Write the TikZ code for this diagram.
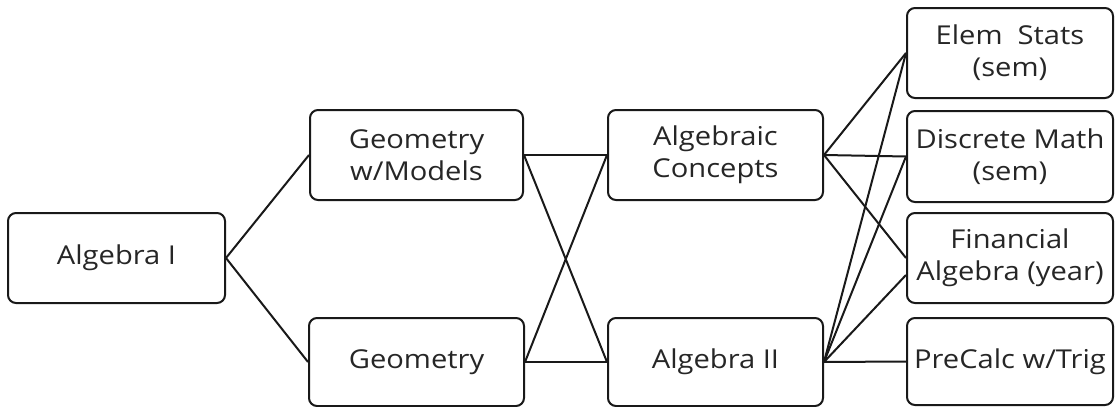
\documentclass[tikz,border=0pt]{standalone}
\usepackage{fontspec}
\setmainfont{Open Sans}[FakeStretch=1.12]
\usetikzlibrary{calc}
\begin{document}
\begin{tikzpicture}[x=0.5pt,y=-0.5pt,
  box/.style={draw=black!90, line width=1pt, rounded corners=4pt, align=center,
    inner sep=0pt, text=black!85,
    font=\fontsize{13}{16}\selectfont},
  link/.style={draw=black!90, line width=1pt}]
\useasboundingbox (0,0) rectangle (1115,407);
\node[box, minimum width=108.5pt, minimum height=45pt] (a1) at (116.5,258) {Algebra I};
\node[box, minimum width=106.5pt, minimum height=45pt] (gm) at (416.5,155) {Geometry\\w/Models};
\node[box, minimum width=107.5pt, minimum height=44pt] (geo) at (416.5,362) {Geometry};
\node[box, minimum width=107.5pt, minimum height=45pt] (ac) at (715.5,155) {Algebraic\\Concepts};
\node[box, minimum width=107.5pt, minimum height=44pt] (a2) at (715.5,362) {Algebra II};
\node[box, minimum width=103pt, minimum height=45pt] (es) at (1010,53) {Elem\ \ Stats\\(sem)};
\node[box, minimum width=103pt, minimum height=45.5pt] (dm) at (1010,156.5) {Discrete Math\\(sem)};
\node[box, minimum width=103pt, minimum height=45pt] (fa) at (1010,258) {Financial\\Algebra (year)};
\node[box, minimum width=103pt, minimum height=43.5pt] (pc) at (1010,361.5) {PreCalc w/Trig};
\coordinate (fa2) at ($(fa.west)+(0,17)$);
\draw[link] (a1.east) -- (gm.west);
\draw[link] (a1.east) -- (geo.west);
\draw[link] (gm.east) -- (ac.west);
\draw[link] (gm.east) -- (a2.west);
\draw[link] (geo.east) -- (ac.west);
\draw[link] (geo.east) -- (a2.west);
\draw[link] (ac.east) -- (es.west);
\draw[link] (ac.east) -- (dm.west);
\draw[link] (ac.east) -- (fa.west);
\draw[link] (a2.east) -- (es.west);
\draw[link] (a2.east) -- (dm.west);
\draw[link] (a2.east) -- (fa2);
\draw[link] (a2.east) -- (pc.west);
\end{tikzpicture}
\end{document}
